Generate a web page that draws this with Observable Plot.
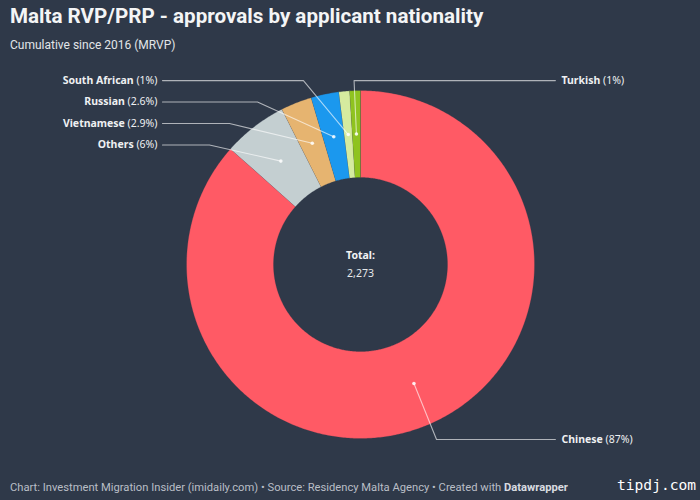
<!DOCTYPE html>
<html>
<head>
<meta charset="utf-8">
<script src="https://cdn.jsdelivr.net/npm/d3@7"></script>
<script src="https://cdn.jsdelivr.net/npm/@observablehq/plot@0.6"></script>
<style>
  html, body { margin: 0; padding: 0; background: #2f3949; width: 700px; height: 500px; overflow: hidden; }
  body { font-family: Roboto, sans-serif; color: #fff; position: relative; }
  #title { position: absolute; left: 10px; top: 3px; font-size: 20.6px; font-weight: 700; line-height: 26px; color: #f4f5f6; white-space: nowrap; }
  #subtitle { position: absolute; left: 10px; top: 37px; font-size: 12px; line-height: 16px; color: #e2e5e8; white-space: nowrap; }
  #chart { position: absolute; left: 0; top: 60px; }
  #chart svg { display: block; background: transparent; }
  #footer { position: absolute; left: 10px; top: 480px; font-size: 11.2px; line-height: 15px; color: #b9bec6; white-space: nowrap; }
  #footer b { color: #d8dbe0; font-weight: 700; }
  #mark { position: absolute; left: 617px; top: 475px; font-family: "DejaVu Sans Mono", monospace; font-size: 14.6px; line-height: 20px; color: #fff; white-space: nowrap; }
</style>
</head>
<body>
<div id="title">Malta RVP/PRP - approvals by applicant nationality</div>
<div id="subtitle">Cumulative since 2016 (MRVP)</div>
<div id="chart"></div>
<div id="footer">Chart: Investment Migration Insider (imidaily.com) • Source: Residency Malta Agency • Created with <b>Datawrapper</b></div>
<div id="mark">tipdj.com</div>
<script>
// Data: clockwise from twelve o'clock
const names = ["Chinese", "Others", "Vietnamese", "Russian", "South African", "Turkish"];
const shares = [87, 6, 2.9, 2.6, 1, 1];
const shareLabels = ["87%", "6%", "2.9%", "2.6%", "1%", "1%"];
const colors = ["#ff5a65", "#c4cfd1", "#e6b470", "#1b98ee", "#d5eb9f", "#8fc31f"];
const totalLabel = "Total:";
const totalValue = "2,273";

// Donut proportions, in units of the outer radius
const outer = 1, inner = 0.5, anchorRadius = 0.75;

// Annotation layout, in the same units: label row and leader-line elbow
const labelRows = [-1.006, 0.687, 0.810, 0.934, 1.057, 1.057];
const elbows = [0.437, -0.868, -0.753, -0.592, -0.328, -0.037];
const labelSides = [1, -1, -1, -1, -1, 1];

const sum = d3.sum(shares);
const toRad = d3.cumsum(shares).map(c => (c / sum) * 2 * Math.PI);
const polar = (r, a) => [r * Math.sin(a), r * Math.cos(a)];

const slices = [];
const leaders = [];
const labels = [];
names.forEach((name, i) => {
  const a0 = i ? toRad[i - 1] : 0, a1 = toRad[i];
  const steps = Math.max(2, Math.ceil((a1 - a0) / 0.01));
  const arc = d3.range(steps + 1).map(k => a0 + ((a1 - a0) * k) / steps);
  for (const a of arc) { const [x, y] = polar(outer, a); slices.push({name, x, y}); }
  for (const a of arc.slice().reverse()) { const [x, y] = polar(inner, a); slices.push({name, x, y}); }

  const [dx, dy] = polar(anchorRadius, (a0 + a1) / 2);
  const side = labelSides[i];
  const lineEnd = side < 0 ? -1.138 : 1.12;
  const textAt = side < 0 ? -1.167 : 1.155;
  leaders.push({name, x: dx, y: dy}, {name, x: elbows[i], y: labelRows[i]}, {name, x: lineEnd, y: labelRows[i]});
  labels.push({name, share: shareLabels[i], x: textAt, y: labelRows[i], anchor: side < 0 ? "end" : "start", dotX: dx, dotY: dy});
});

const plot = Plot.plot({
  width: 700,
  height: 410,
  margin: 0,
  style: {background: "transparent"},
  x: {domain: [-360 / 174, 340 / 174], axis: null},
  y: {domain: [-206 / 174, 204 / 174], axis: null},
  color: {domain: names, range: colors},
  marks: [
    Plot.line(slices, {x: "x", y: "y", z: "name", fill: "name", stroke: "#2f3949", strokeWidth: 0.5, strokeOpacity: 0.5}),
    Plot.line(leaders, {x: "x", y: "y", z: "name", stroke: "#fff", strokeOpacity: 0.62, strokeWidth: 1.1, curve: "linear"}),
    Plot.dot(labels, {x: "dotX", y: "dotY", r: 1.8, fill: "#fff", fillOpacity: 0.85}),
    Plot.text(labels.filter(d => d.anchor === "end"), {x: "x", y: "y", text: d => `${d.name}|(${d.share})`, textAnchor: "end", fontSize: 10.5, fill: "#eef0f2"}),
    Plot.text(labels.filter(d => d.anchor === "start"), {x: "x", y: "y", text: d => `${d.name}|(${d.share})`, textAnchor: "start", fontSize: 10.5, fill: "#eef0f2"}),
    Plot.text([totalLabel], {x: 0, y: 0.05, text: d => d, fontSize: 10.5, fontWeight: 700, fill: "#f2f3f5"}),
    Plot.text([totalValue], {x: 0, y: -0.052, text: d => d, fontSize: 10.5, fill: "#e6e8eb"})
  ]
});

// Bold name followed by a regular-weight share, inside one label
d3.select(plot).selectAll("text").filter(function () { return this.textContent.includes("|"); }).each(function () {
  const [name, share] = this.textContent.split("|");
  const t = d3.select(this).text(null);
  t.append("tspan").attr("font-weight", 700).text(name);
  t.append("tspan").text(" " + share);
});

document.getElementById("chart").appendChild(plot);
</script>
</body>
</html>
